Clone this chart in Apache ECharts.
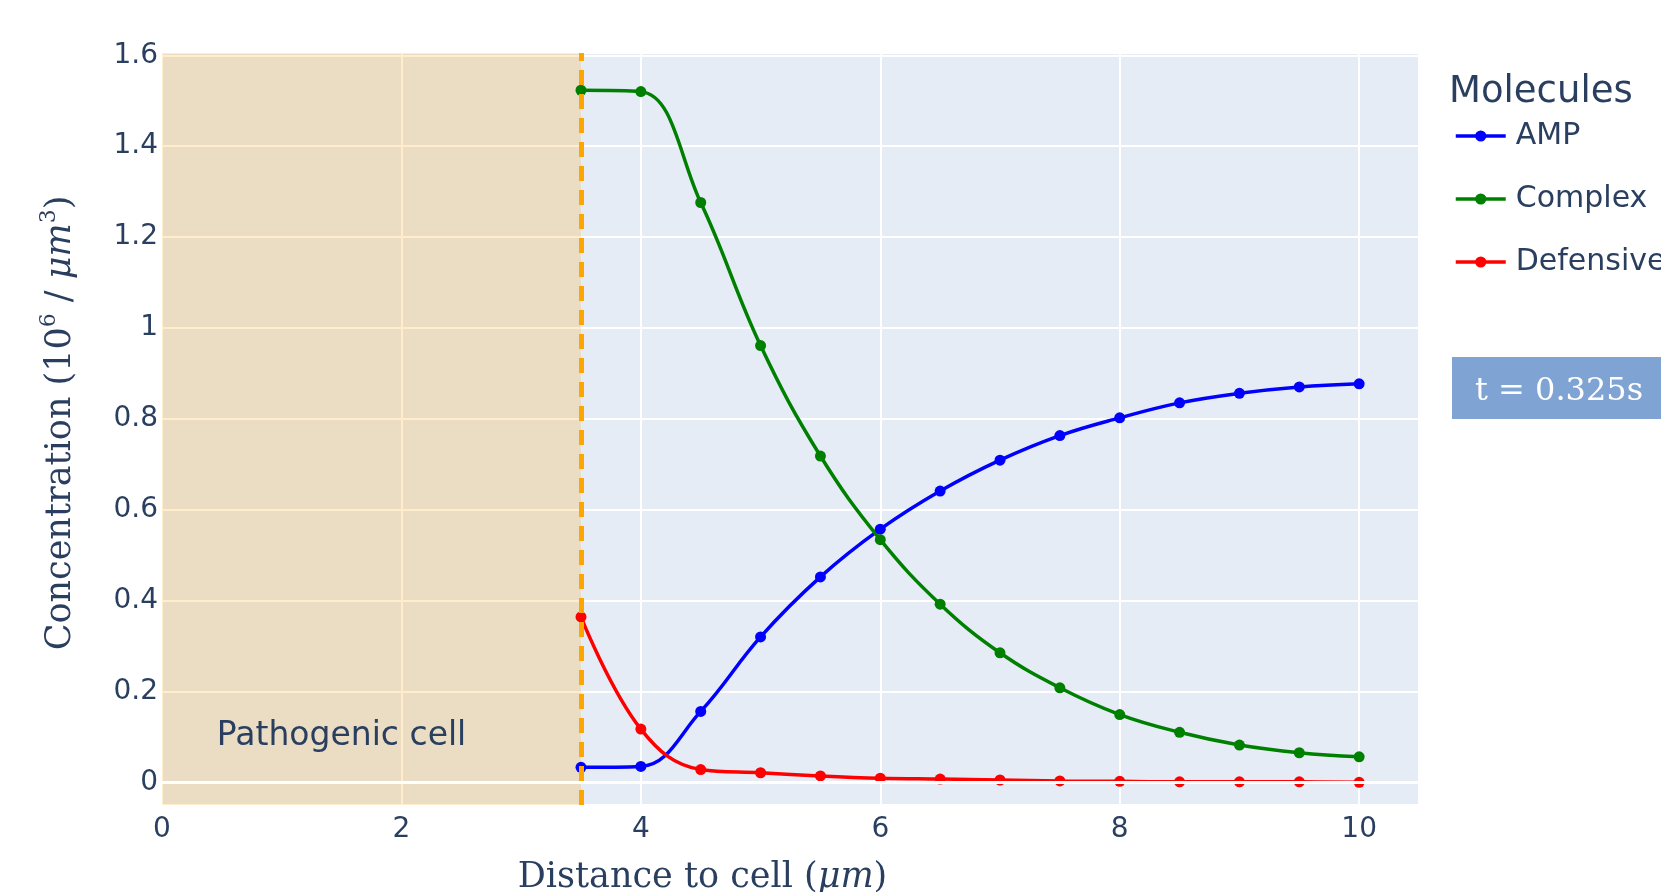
<!DOCTYPE html>
<html>
<head>
<meta charset="utf-8">
<script src="https://cdn.jsdelivr.net/npm/echarts@6/dist/echarts.min.js"></script>
<style>
  html, body { margin: 0; padding: 0; background: #fff; }
  #chart { width: 1661px; height: 892px; }
</style>
</head>
<body>
<div id="chart"></div>
<script>
// distance to the cell surface (um) and concentrations (10^6 / um^3)
const distance = [3.5, 4, 4.5, 5, 5.5, 6, 6.5, 7, 7.5, 8, 8.5, 9, 9.5, 10]
const amp = [0.033, 0.035, 0.156, 0.320, 0.452, 0.557, 0.641, 0.709, 0.763, 0.802, 0.835, 0.856, 0.870, 0.877]
const complex = [1.523, 1.520, 1.276, 0.961, 0.718, 0.534, 0.392, 0.285, 0.208, 0.149, 0.110, 0.082, 0.065, 0.056]
const defensive = [0.364, 0.117, 0.028, 0.021, 0.014, 0.009, 0.007, 0.005, 0.003, 0.002, 0.001, 0.001, 0.001, 0.0]

const xRange = [0, 10.5]
const yRange = [-0.05, 1.605]
const cellEdge = 3.5
const cellLabelPos = [1.5, 0.1]
const timeLabel = 't = 0.325s'

const textColor = '#2a3f5f'
const sans = 'DejaVu Sans'
const serif = 'DejaVu Serif'

const chart = echarts.init(document.getElementById('chart'))

function lineSeries(name, values, color) {
  return {
    name, type: 'line', z: 3,
    data: distance.map((x, i) => [x, values[i]]),
    smooth: 0.4,
    symbol: 'circle', symbolSize: 11,
    itemStyle: { color },
    lineStyle: { color, width: 3.5 }
  }
}

chart.setOption({
  animation: false,
  grid: {
    left: 162, right: 242, top: 53, bottom: 87, outerBoundsMode: 'none',
    show: true, backgroundColor: '#E5ECF6', borderWidth: 0
  },
  legend: {
    orient: 'vertical', left: 1449, top: 116,
    itemWidth: 50, itemHeight: 14, itemGap: 33,
    lineStyle: { width: 3.5 },
    data: ['AMP', 'Complex', 'Defensive'],
    textStyle: { fontFamily: sans, fontSize: 30, color: textColor, padding: [0, 0, 0, 5] }
  },
  xAxis: {
    type: 'value', min: xRange[0], max: xRange[1], interval: 2,
    axisLine: { show: false }, axisTick: { show: false },
    splitLine: { lineStyle: { color: '#fff', width: 2 } },
    axisLabel: { showMaxLabel: false, margin: 11, fontFamily: sans, fontSize: 28, color: textColor },
    name: '{a|Distance to cell (}{i|μm}{a|)}',
    nameLocation: 'middle', nameGap: 55,
    nameTextStyle: {
      padding: [0, 176, 0, 0],
      rich: {
        a: { fontFamily: serif, fontSize: 35, color: textColor },
        i: { fontFamily: serif, fontSize: 35, fontStyle: 'italic', color: textColor }
      }
    }
  },
  yAxis: {
    type: 'value', min: yRange[0], max: yRange[1], splitNumber: 8,
    axisLine: { show: false }, axisTick: { show: false },
    splitLine: { lineStyle: { color: '#fff', width: 2 } },
    axisLabel: { showMinLabel: false, showMaxLabel: false, margin: 4, fontFamily: sans, fontSize: 28, color: textColor },
    name: '{a|Concentration (10}{s|6}{a| / }{i|μm}{s|3}{a|)}',
    nameLocation: 'middle', nameGap: 84,
    nameTextStyle: {
      padding: [0, 0, 0, 12],
      rich: {
        a: { fontFamily: serif, fontSize: 35, lineHeight: 40, verticalAlign: 'bottom', color: textColor },
        i: { fontFamily: serif, fontSize: 35, lineHeight: 40, verticalAlign: 'bottom', fontStyle: 'italic', color: textColor },
        s: { fontFamily: serif, fontSize: 22, lineHeight: 22, verticalAlign: 'bottom', padding: [0, 0, 18, 0], color: textColor }
      }
    }
  },
  graphic: [
    { type: 'text', left: 1449, top: 74, style: { text: 'Molecules', font: '37px "DejaVu Sans"', fill: textColor } },
    { type: 'rect', left: 1452, top: 357, shape: { width: 260, height: 62 }, style: { fill: '#7FA3D2' } },
    { type: 'text', left: 1475, top: 376, style: { text: timeLabel, font: '32px "DejaVu Serif"', fill: '#fff' } }
  ],
  series: [
    {
      type: 'line', data: [], z: 1,
      markArea: {
        silent: true,
        itemStyle: { color: 'rgba(255,165,0,0.2)' },
        data: [[{ xAxis: xRange[0] }, { xAxis: cellEdge }]]
      },
      markLine: {
        silent: true, symbol: 'none', label: { show: false },
        data: [
          { yAxis: 0, lineStyle: { color: '#fff', width: 3, type: 'solid' } },
          { xAxis: cellEdge, lineStyle: { color: '#FFA500', width: 5, type: [15, 9] } }
        ]
      }
    },
    {
      type: 'scatter', z: 10, symbolSize: 0, silent: true,
      itemStyle: { opacity: 1 },
      data: [cellLabelPos],
      label: { show: true, position: 'inside', formatter: 'Pathogenic cell', fontFamily: sans, fontSize: 33, color: textColor, opacity: 1 }
    },
    lineSeries('AMP', amp, '#0000FF'),
    lineSeries('Complex', complex, '#008000'),
    lineSeries('Defensive', defensive, '#FF0000')
  ]
})
</script>
</body>
</html>
